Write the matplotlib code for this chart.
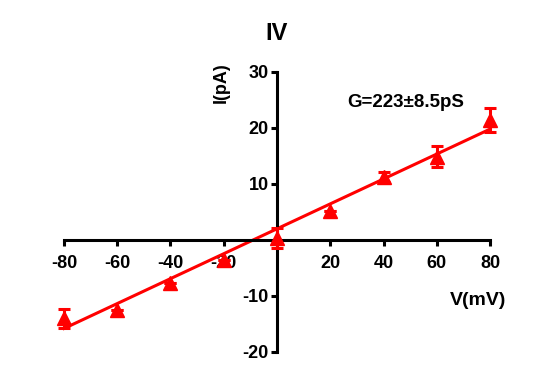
import numpy as np
import matplotlib
matplotlib.use('Agg')
import matplotlib.pyplot as plt

plt.rcParams['font.family'] = ['Liberation Sans', 'DejaVu Sans']
plt.rcParams['font.weight'] = 'bold'

# IV data
voltage = [-80, -60, -40, -20, 0, 20, 40, 60, 80]
current = [-14.0, -12.5, -7.7, -3.6, 0.3, 5.2, 11.2, 14.9, 21.4]
current_err = [1.7, 0.0, 0.0, 0.0, 1.8, 0.0, 0.9, 1.8, 2.2]
fit_slope = 0.2225
fit_intercept = 2.0
xticks = [-80, -60, -40, -20, 20, 40, 60, 80]
yticks = [-20, -10, 10, 20, 30]

fig = plt.figure(figsize=(5.56, 3.76), dpi=100)
ax = fig.add_axes((64 / 556, 1 - 352 / 376, 426 / 556, 280 / 376))

red = '#ff0000'
xfit = np.array([voltage[0], voltage[-1]])
ax.plot(xfit, fit_slope * xfit + fit_intercept, color=red, lw=2.2, zorder=2, clip_on=False)
ax.errorbar(voltage, current, yerr=current_err, fmt='^', color=red, ms=9.5,
            elinewidth=2.2, capsize=4.5, capthick=2.2, zorder=3, clip_on=False)

ax.set_xlim(-80, 80)
ax.set_ylim(-20, 30)
for s in ['top', 'right']:
    ax.spines[s].set_visible(False)
ax.spines['left'].set_position(('data', 0))
ax.spines['bottom'].set_position(('data', 0))
for s in ['left', 'bottom']:
    ax.spines[s].set_linewidth(2.2)

ax.set_xticks(xticks)
ax.set_yticks(yticks)
ax.set_xticklabels([str(t) for t in xticks], fontsize=13, fontweight='bold')
ax.set_yticklabels([str(t) for t in yticks], fontsize=13, fontweight='bold')
ax.tick_params(axis='x', direction='out', length=4.5, width=2.2, pad=6.5)
ax.tick_params(axis='y', direction='out', length=4.5, width=2.2, pad=1.5)

fig.text(277 / 556, 1 - 39.5 / 376, 'IV', ha='center', va='baseline', fontsize=17, fontweight='bold')
fig.text(230 / 556, 1 - 82.5 / 376, 'I(pA)', ha='right', va='center', rotation=90,
         fontsize=13, fontweight='bold')
fig.text(478 / 556, 1 - 305 / 376, 'V(mV)', ha='center', va='baseline', fontsize=14, fontweight='bold')
fig.text(406 / 556, 1 - 107 / 376, 'G=223\u00b18.5pS', ha='center', va='baseline',
         fontsize=13.5, fontweight='bold')

fig.savefig('out.png', dpi=100)
